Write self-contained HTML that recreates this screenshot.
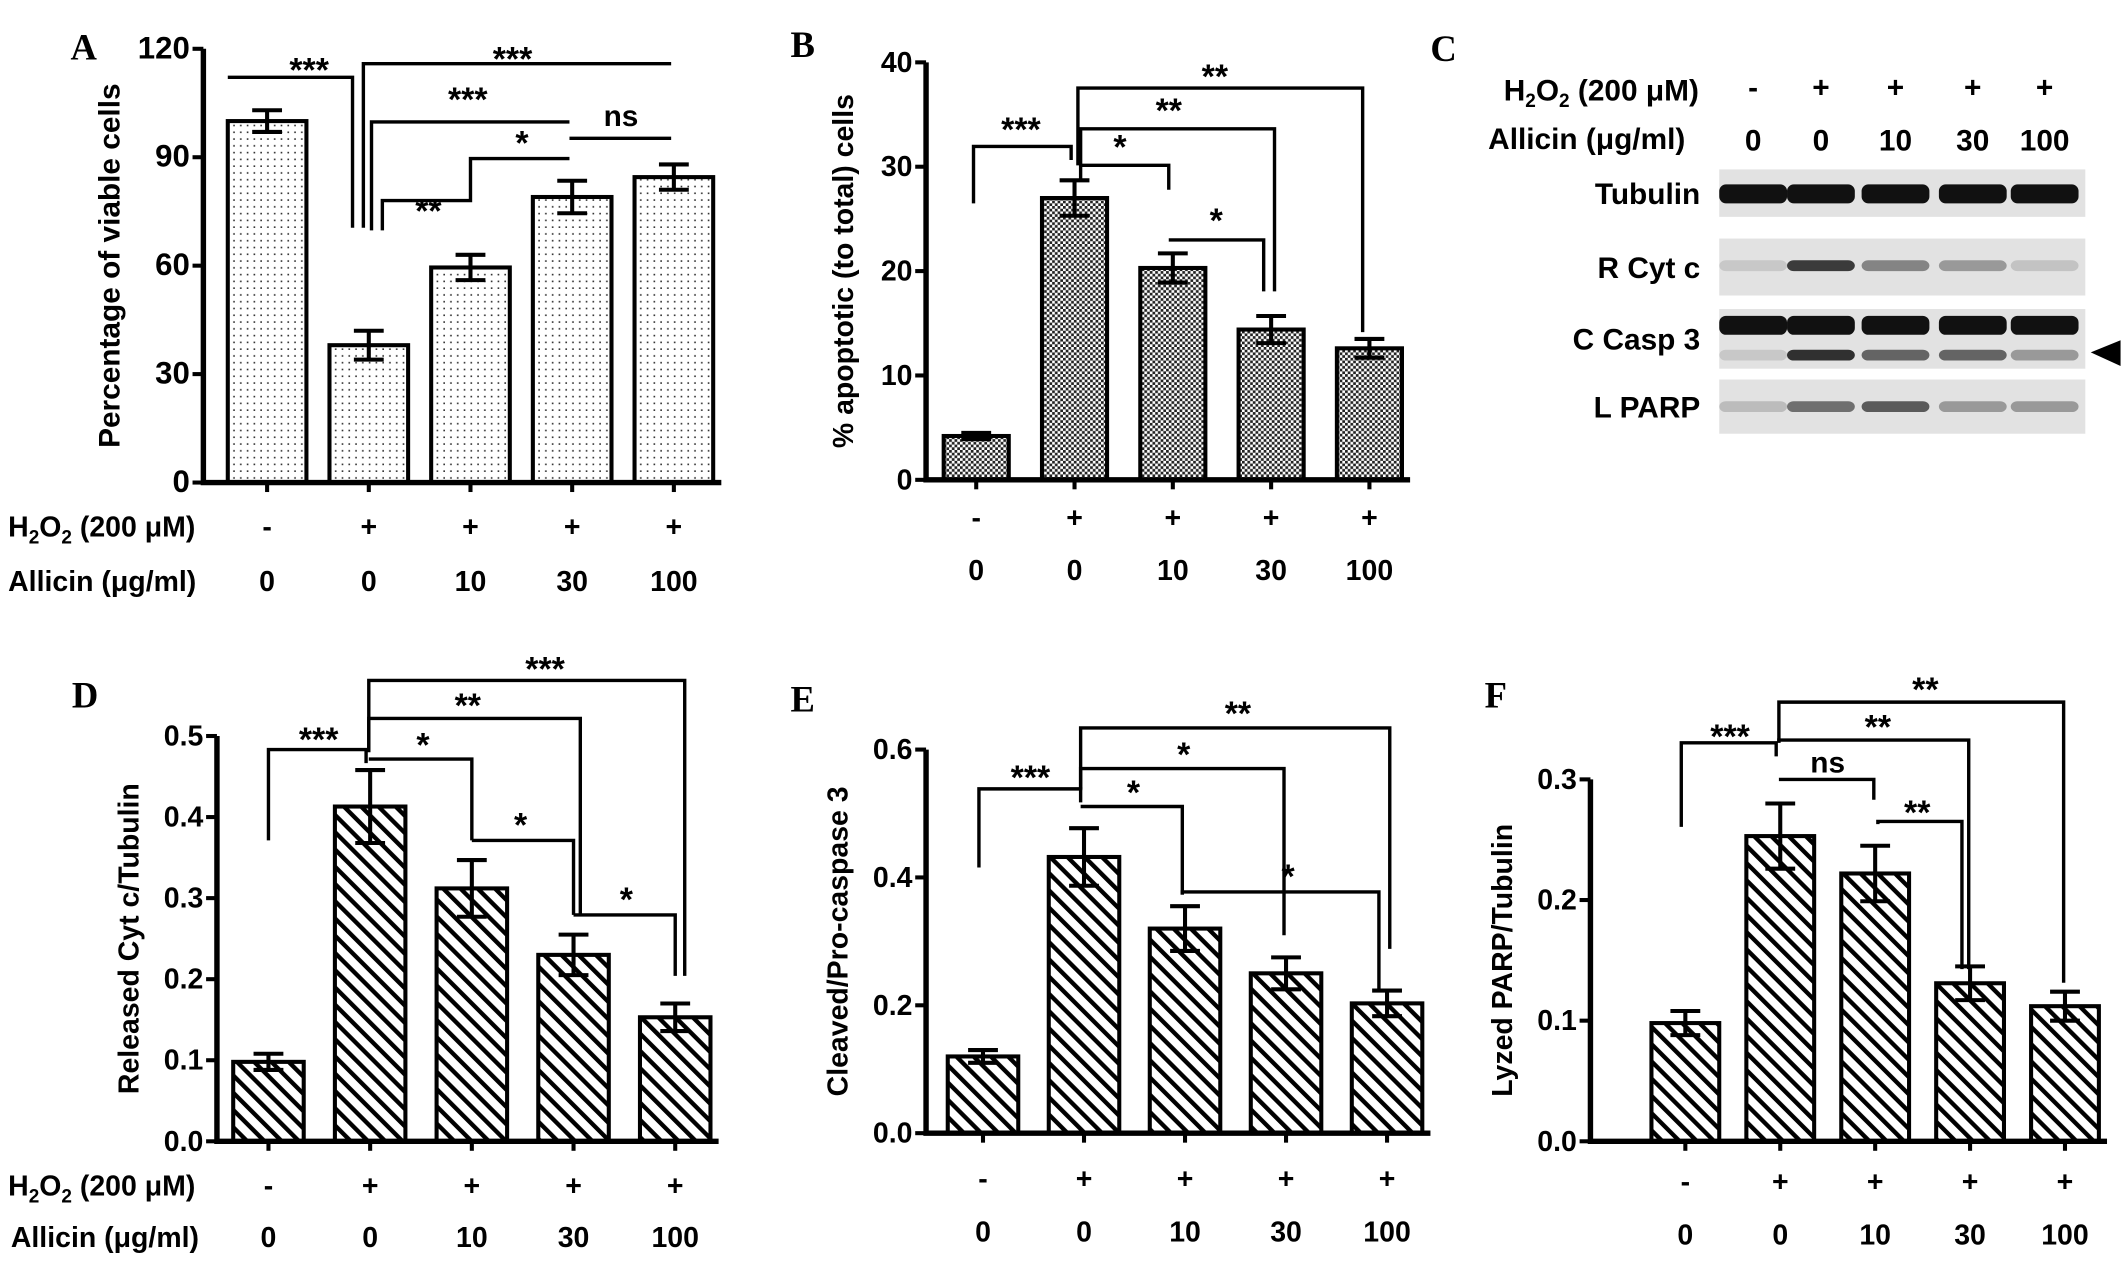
<!DOCTYPE html>
<html><head><meta charset="utf-8"><style>
html,body{margin:0;padding:0;background:#fff;}
svg{display:block;}
text{font-family:"Liberation Sans",Arial,sans-serif;font-weight:bold;fill:#000;}
.pl{font-family:"Liberation Serif",serif;font-size:27px;}
</style></head><body>
<svg id="fig" width="2126" height="1266" viewBox="0 0 1568 934" preserveAspectRatio="none" xmlns="http://www.w3.org/2000/svg">
<defs>
<pattern id="dots" width="5" height="5" patternUnits="userSpaceOnUse"><rect width="5" height="5" fill="#fff"/><rect x="2" y="2" width="1.2" height="1.2" fill="#333"/></pattern>
<pattern id="check" width="4" height="4" patternUnits="userSpaceOnUse"><rect width="4" height="4" fill="#fff"/><rect width="2" height="2" fill="#222"/><rect x="2" y="2" width="2" height="2" fill="#222"/></pattern>
<pattern id="hatch" width="9" height="9" patternUnits="userSpaceOnUse" patternTransform="rotate(-45)"><rect width="9" height="9" fill="#fff"/><rect x="0" y="0" width="3.2" height="9" fill="#000"/></pattern>
</defs>
</svg>
<script>
const NS="http://www.w3.org/2000/svg";
const svg=document.getElementById('fig');
// ---- data ----
const categories=["ctrl","H2O2","H2O2+10","H2O2+30","H2O2+100"];
const h2o2Labels=["-","+","+","+","+"];
const allicinLabels=["0","0","10","30","100"];
const valuesA=[100,38,59.5,79,84.5];
const errA=[3,4,3.5,4.5,3.5];
const ticksA=["0","30","60","90","120"];
const valuesB=[4.2,27,20.3,14.4,12.6];
const errB=[0.3,1.7,1.4,1.3,0.9];
const ticksB=["0","10","20","30","40"];
const valuesD=[0.098,0.413,0.312,0.23,0.153];
const errD=[0.01,0.045,0.035,0.025,0.017];
const ticksD=["0.0","0.1","0.2","0.3","0.4","0.5"];
const valuesE=[0.12,0.432,0.32,0.25,0.203];
const errE=[0.01,0.045,0.035,0.025,0.02];
const ticksE=["0.0","0.2","0.4","0.6"];
const valuesF=[0.098,0.253,0.222,0.131,0.112];
const errF=[0.01,0.027,0.023,0.014,0.012];
const ticksF=["0.0","0.1","0.2","0.3"];

function el(tag,attrs,parent){const e=document.createElementNS(NS,tag);for(const k in attrs)e.setAttribute(k,attrs[k]);(parent||svg).appendChild(e);return e;}
function txt(s,x,y,size,anchor,parent,extra){const t=el('text',Object.assign({x:x,y:y,'font-size':size,'text-anchor':anchor||'middle'},extra||{}),parent);t.textContent=s;return t;}

function panel(c){
  const g=el('g',{});
  
  
  const ticks=c.ticks.map(Number);
  const max=ticks[ticks.length-1];
  const y=v=>c.yZero-(v/max)*(c.yZero-c.yTop);
  const x=i=>c.x0+c.first+i*c.step;
  c.values.forEach((v,i)=>{
    const r=el('rect',{x:x(i)-c.bw/2,y:y(v),width:c.bw,height:c.yZero-y(v),fill:'url(#'+c.pat+')',stroke:'#000','stroke-width':3},g);
    
    
    const e=c.errs[i];
    const p=el('path',{d:`M${x(i)} ${y(v)} V${y(v+e)} M${x(i)-11} ${y(v+e)} H${x(i)+11} M${x(i)} ${y(v)} V${y(v-e)} M${x(i)-11} ${y(v-e)} H${x(i)+11}`,stroke:'#000','stroke-width':3,fill:'none'},g);
    
    
  });
  const ax=el('path',{d:`M${c.x0} ${c.yTop} V${c.yZero} H${x(4)+c.bw/2+6}`,stroke:'#000','stroke-width':4,fill:'none'},g);
  
  
  ticks.forEach((t,i)=>{
    el('path',{d:`M${c.x0-8} ${y(t)} H${c.x0}`,stroke:'#000','stroke-width':3},g);
    const tl=txt(c.ticks[i],c.x0-10,y(t)+7,c.tickSize||21,'end',g);
    
    
  });
  c.values.forEach((v,i)=>el('path',{d:`M${x(i)} ${c.yZero} V${c.yZero+7}`,stroke:'#000','stroke-width':3},g));
  const yt=txt(c.ytitle,0,0,c.ytSize||21,'middle',g,{transform:`translate(${c.x0-c.ytOff},${(c.yTop+c.yZero)/2}) rotate(-90)`});
  
  
  h2o2Labels.forEach((s,i)=>{const t=txt(s,x(i),c.r1,21,'middle',g);});
  allicinLabels.forEach((s,i)=>{const t=txt(s,x(i),c.r2,21,'middle',g);});
  (c.br||[]).forEach(b=>{
    const p=el('path',{d:b[0],stroke:'#000','stroke-width':2.5,fill:'none'},g);
    
    
    const t=txt(b[1],b[2],b[3],b[1]=='ns'?22:25,'middle',g);
    
    
  });
  const L=txt(c.letter,c.lx,c.ly,27,'start',g,{class:'pl'});
  
  
  return g;
}

panel({name:'panel-a',letter:'A',lx:52,ly:44,x0:150,yTop:36,yZero:356,first:47,step:75,bw:58,values:valuesA,errs:errA,ticks:ticksA,pat:'dots',ytitle:'Percentage of viable cells',ytOff:62,r1:396,r2:436,tickSize:23,ytSize:22,
 br:[["M168 57 H260 V168","***",228,60],["M268 168 V47 H495","***",378,52],["M274 170 V90 H420","***",345,82],["M282 170 V148 H347 V117 H420","*",385,114],["M420 102 H495","ns",458,93],["","**",316,164]]});
(function(){
 const t1=txt('',6,396,21,'start');t1.innerHTML='H<tspan dy="5" font-size="14">2</tspan><tspan dy="-5">O</tspan><tspan dy="5" font-size="14">2</tspan><tspan dy="-5"> (200 μM)</tspan>';
 
 const t2=txt('Allicin (μg/ml)',6,436,21,'start');
})();

panel({name:'panel-b',letter:'B',lx:583,ly:42,x0:683,yTop:46,yZero:354,first:37,step:72.5,bw:48,values:valuesB,errs:errB,ticks:ticksB,pat:'check',ytitle:'% apoptotic (to total) cells',ytOff:54,r1:389,r2:428,
 br:[["M718 150 V108 H790 V118","***",753,104],["M795 122 V65 H1005 V245","**",896,65],["M797 122 V95 H940 V215","**",862,90],["M797 132 V122 H862 V140","*",826,117],["M862 177 H932 V215","*",897,171]]});

panel({name:'panel-d',letter:'D',lx:53,ly:522,x0:160,yTop:543,yZero:842,first:38,step:75,bw:52,values:valuesD,errs:errD,ticks:ticksD,pat:'hatch',ytitle:'Released Cyt c/Tubulin',ytOff:58,r1:882,r2:920,
 br:[["M198 620 V553 H270 V563","***",235,554],["M272 553 V502 H505 V720","***",402,502],["M272 555 V530 H428 V675","**",345,529],["M272 560 H348 V620","*",312,558],["M348 620 H423 V675","*",384,617],["M423 675 H498 V720","*",462,672]]});
(function(){
 const t1=txt('',6,882,21,'start');t1.innerHTML='H<tspan dy="5" font-size="14">2</tspan><tspan dy="-5">O</tspan><tspan dy="5" font-size="14">2</tspan><tspan dy="-5"> (200 μM)</tspan>';
 
 const t2=txt('Allicin (μg/ml)',8,920,21,'start');
})();

panel({name:'panel-e',letter:'E',lx:583,ly:525,x0:683,yTop:553,yZero:836,first:42,step:74.5,bw:52,values:valuesE,errs:errE,ticks:ticksE,pat:'hatch',ytitle:'Cleaved/Pro-caspase 3',ytOff:58,r1:877,r2:916,
 br:[["M722 640 V582 H797 V592","***",760,582],["M797 582 V537 H1025 V700","**",913,535],["M797 583 V567 H947 V690","*",873,565],["M797 595 H872 V660","*",836,593],["M872 660 V658 H1017 V730","*",950,655]]});

panel({name:'panel-f',letter:'F',lx:1095,ly:522,x0:1173,yTop:575,yZero:842,first:70,step:70,bw:50,values:valuesF,errs:errF,ticks:ticksF,pat:'hatch',ytitle:'Lyzed PARP/Tubulin',ytOff:58,r1:879,r2:918,
 br:[["M1240 610 V548 H1310 V558","***",1276,552],["M1312 548 V518 H1522 V725","**",1420,517],["M1312 548 V546 H1452 V715","**",1385,545],["M1312 575 H1382 V590","ns",1348,570],["M1385 608 V606 H1447 V715","**",1414,608]]});

(function(){
 const g=el('g',{});
 const L=txt('C',1055,45,27,'start',g,{class:'pl'});
 const cols=[1293,1343,1398,1455,1508];
 const t1=txt('',1253,74,22,'end',g);t1.innerHTML='H<tspan dy="5" font-size="14">2</tspan><tspan dy="-5">O</tspan><tspan dy="5" font-size="14">2</tspan><tspan dy="-5"> (200 μM)</tspan>';
 
 const t2=txt('Allicin (μg/ml)',1243,110,22,'end',g);
 cols.forEach((cx,i)=>{txt(h2o2Labels[i],cx,72,22,'middle',g);txt(allicinLabels[i],cx,111,22,'middle',g);});
 const rows=[['Tubulin',125,160,[[143,1,1,1,1,1]]],['R Cyt c',176,218,[[196,0.12,0.8,0.45,0.35,0.15]]],['C Casp 3',228,272,[[240,1,1,1,1,1],[262,0.12,0.85,0.6,0.6,0.35]]],['L PARP',280,320,[[300,0.18,0.55,0.65,0.35,0.35]]]];
 rows.forEach(r=>{
  const lb=txt(r[0],1254,(r[1]+r[2])/2+8,22,'end',g);
  const bx=el('rect',{x:1268,y:r[1],width:270,height:r[2]-r[1],fill:'#e2e2e2'},g);
  
  r[3].forEach(b=>{cols.forEach((cx,i)=>{const a=b[i+1];el('rect',{x:cx-25,y:b[0]-(a>0.9?7:4),width:50,height:a>0.9?14:8,rx:5,fill:'#111','fill-opacity':a},g);});});
 });
 const ar=el('path',{d:'M1542 260 L1564 251 L1564 270 Z',fill:'#000'},g);
})();
</script>
</body></html>
